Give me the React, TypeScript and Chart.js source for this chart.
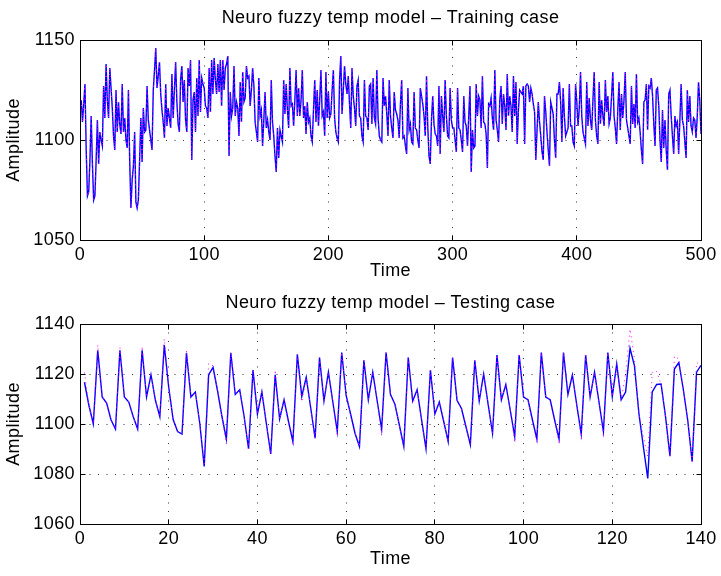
import React, { useEffect, useRef } from "react";
import { Chart, registerables } from "chart.js";

Chart.register(...registerables);

// ---------------- data ----------------
const trainTitle = "Neuro fuzzy temp model – Training case";
const testTitle = "Neuro fuzzy temp model – Testing case";
const xAxisLabel = "Time";
const yAxisLabel = "Amplitude";

// training case, samples 1..500
const trainValues = [
  1120, 1109, 1118, 1128, 1095, 1072, 1074, 1090, 1112, 1088,
  1070, 1072, 1090, 1110, 1088, 1104, 1100, 1097, 1127, 1111,
  1138, 1120, 1111, 1136, 1126, 1116, 1102, 1095, 1125, 1104,
  1119, 1108, 1103, 1128, 1104, 1111, 1100, 1096, 1125, 1090,
  1066, 1080, 1087, 1104, 1069, 1066, 1070, 1090, 1111, 1089,
  1116, 1104, 1105, 1127, 1110, 1105, 1100, 1095, 1125, 1135,
  1146, 1126, 1132, 1139, 1123, 1115, 1109, 1101, 1128, 1107,
  1116, 1111, 1106, 1133, 1111, 1125, 1139, 1119, 1108, 1104,
  1130, 1137, 1119, 1130, 1110, 1104, 1136, 1127, 1140, 1090,
  1120, 1124, 1104, 1131, 1112, 1140, 1114, 1131, 1128, 1126,
  1117, 1116, 1111, 1136, 1114, 1140, 1123, 1141, 1130, 1123,
  1138, 1124, 1140, 1117, 1140, 1125, 1136, 1138, 1142, 1092,
  1124, 1112, 1116, 1137, 1112, 1119, 1116, 1102,
  1129, 1109, 1134, 1119, 1121, 1137, 1131, 1132, 1117, 1125,
  1136, 1127, 1109, 1104, 1099, 1131, 1112, 1115, 1097, 1110,
  1124, 1106, 1110, 1104, 1100, 1130, 1109, 1102, 1092, 1084,
  1106, 1091, 1105, 1102, 1099, 1130, 1113, 1128, 1115, 1106,
  1136, 1117, 1118, 1107, 1120, 1135, 1112, 1126, 1112, 1120,
  1135, 1111, 1117, 1103, 1119, 1109, 1111, 1102, 1099, 1115,
  1130, 1109, 1125, 1107, 1120, 1135, 1112, 1114, 1102, 1134,
  1111, 1124, 1111, 1113, 1125, 1135, 1111, 1104, 1101, 1099,
  1130, 1142, 1113, 1125, 1137, 1128, 1123, 1132, 1118, 1106,
  1136, 1122, 1116,
  1107, 1127, 1130, 1112, 1111, 1102, 1099, 1130, 1112, 1111,
  1105, 1127, 1128, 1108, 1131, 1111, 1108, 1135, 1111, 1102,
  1100, 1099, 1131, 1117, 1122, 1113, 1102, 1130, 1112, 1106,
  1101, 1124, 1115, 1113, 1110, 1101, 1118, 1130, 1101, 1102,
  1097, 1093, 1126, 1105, 1108, 1099, 1098, 1124, 1106, 1105,
  1100, 1096, 1126, 1122, 1118, 1112, 1102, 1132, 1107, 1092,
  1088, 1110, 1122, 1108, 1103, 1102, 1097, 1127, 1093, 1122,
  1112, 1104, 1130, 1112, 1102, 1101, 1126, 1110, 1106, 1106,
  1100, 1094, 1126, 1106, 1105, 1100, 1094, 1122, 1109, 1107,
  1097, 1112,
  1127, 1084, 1105, 1096, 1097, 1128, 1112, 1122, 1120, 1106,
  1132, 1109, 1108, 1103, 1086, 1118, 1117, 1121, 1111, 1105,
  1135, 1110, 1105, 1099, 1120, 1127, 1108, 1123, 1117, 1105,
  1133, 1112, 1122, 1117, 1104, 1132, 1112, 1129, 1098, 1115,
  1125, 1124, 1123, 1127, 1098, 1127, 1128, 1127, 1119, 1126,
  1123, 1118, 1114, 1090, 1105, 1119, 1109, 1102, 1094, 1090,
  1122, 1114, 1104, 1095, 1087, 1119, 1116, 1113, 1100, 1091,
  1123, 1123, 1129, 1119, 1099, 1126, 1112, 1102, 1104, 1106,
  1128, 1107, 1107, 1099, 1097, 1128, 1119, 1107, 1116,
  1134, 1112, 1104, 1101, 1098, 1129, 1107, 1121, 1110, 1105,
  1120, 1134, 1110, 1102, 1098, 1129, 1108, 1120, 1112, 1107,
  1130, 1114, 1122, 1108, 1111, 1122, 1134, 1112, 1106, 1098,
  1115, 1129, 1105, 1123, 1111, 1120, 1134, 1110, 1106, 1102,
  1098, 1127, 1108, 1118, 1106, 1133, 1109, 1111, 1104, 1095,
  1088, 1119, 1120, 1128, 1105, 1127, 1126, 1131, 1122, 1108,
  1097, 1125, 1126, 1117, 1100, 1089, 1115, 1096, 1110, 1095,
  1085, 1123, 1125, 1112, 1102, 1093, 1112, 1107, 1109, 1093,
  1110, 1128, 1110, 1107, 1099, 1091, 1125, 1109, 1122, 1107,
  1104, 1111, 1110, 1101, 1112, 1129, 1120, 1103,
];

// testing case, samples 1..140 — model output (blue)
const testModel = [
  1116.7, 1107.5, 1100, 1129.5, 1110.8, 1108.4, 1101.6, 1098, 1129.5, 1110.8,
  1108.8, 1102.9, 1098, 1129.5, 1110.8, 1119.7, 1109.5, 1102.9, 1131.6, 1114.7,
  1101.8, 1097, 1096, 1128.5, 1110.8, 1112.8, 1100.3, 1083, 1119.7, 1122.6,
  1113.4, 1103, 1094, 1128.5, 1111.8, 1113.7, 1103, 1090, 1121.6, 1104,
  1112.8, 1100.3, 1088, 1119.7, 1102, 1109.7, 1101, 1093, 1127.9, 1111,
  1118.7, 1106.6, 1094.3, 1126.6, 1109.2, 1120.7, 1108.8, 1097, 1128.6, 1111.4,
  1104, 1096.3, 1091, 1125.5, 1109.7, 1120.7, 1109.2, 1097.9, 1128.6, 1111.8,
  1107.9, 1099.5, 1091, 1126.6, 1109.2, 1113.7, 1101.8, 1090.1, 1121.6, 1104,
  1108.8, 1101, 1093, 1126.6, 1109.5, 1106.2, 1099, 1091.7, 1125.5, 1109.2,
  1120, 1108, 1096.3, 1127.6, 1109.7, 1115.8, 1105.5, 1095, 1127.6, 1110.8,
  1109.7, 1101.6, 1094, 1128.6, 1110.8, 1109.7, 1101.6, 1094, 1128.6, 1111.8,
  1119.6, 1107.5, 1096, 1127.6, 1110.8, 1120.7, 1108.8, 1097, 1128.6, 1111,
  1124, 1109.7, 1112.8, 1130.3, 1123.3, 1104.2, 1091, 1078.2, 1112.8, 1115.8,
  1116, 1103, 1087.1, 1122, 1124.6, 1114, 1101.6, 1085, 1120.7, 1123.5,
];

// testing case, samples 1..140 — measured (magenta dotted)
const testActual = [
  1120.6, 1107.5, 1100, 1131.6, 1110.8, 1108.4, 1101.6, 1098, 1130.5, 1110.8,
  1108.8, 1102.9, 1098, 1131, 1110.8, 1119.7, 1109.5, 1102.9, 1134, 1114.7,
  1101.8, 1097, 1096, 1129.5, 1110.8, 1112.8, 1100.3, 1084, 1124.2, 1123.3,
  1113.4, 1103, 1092, 1128.5, 1111.8, 1113.7, 1103, 1090, 1121.6, 1104,
  1112.8, 1100.3, 1088, 1121.6, 1102, 1109.7, 1101, 1091.3, 1127.9, 1108.8,
  1118.7, 1106.6, 1094.3, 1126.6, 1109.2, 1120.7, 1108.8, 1095, 1128.6, 1111.4,
  1104, 1096.3, 1091, 1125.5, 1109.7, 1120.7, 1109.2, 1095.3, 1128.6, 1111.8,
  1107.9, 1099.5, 1091, 1126.6, 1108, 1113.7, 1101.8, 1090.1, 1121.6, 1104,
  1108.8, 1101, 1093, 1126.6, 1109.5, 1106.2, 1099, 1091.7, 1125.5, 1109.2,
  1120, 1108, 1096.3, 1127.6, 1109.7, 1115.8, 1105.5, 1092.6, 1127.6, 1110.8,
  1109.7, 1101.6, 1092.4, 1128.6, 1110.8, 1109.7, 1101.6, 1092, 1128.6, 1111.8,
  1119.6, 1107.5, 1094, 1127.6, 1110.8, 1120.7, 1108.8, 1094.6, 1128.6, 1111,
  1124, 1109.7, 1120, 1138, 1126, 1104.2, 1095, 1087, 1120.7, 1121,
  1116, 1103, 1087.1, 1127.2, 1126, 1114, 1101.6, 1085, 1124.6, 1123.5,
];

const trainXRange = [0, 500, 100];
const trainYRange = [1050, 1150, 50];
const testXRange = [0, 140, 20];
const testYRange = [1060, 1140, 20];

// ---------------- styling ----------------
const FONT_FAMILY = "'Liberation Sans', Arial, Helvetica, sans-serif";
const FONT_SIZE = 18;
const LETTER_SPACING = "0.4px";
const W = 721;
const H = 288;

function alignPx(p: number) {
  return Math.round(p - 0.5) + 0.5;
}

const framePlugin = {
  id: "matlabFrame",
  beforeDraw(chart: any) {
    (chart.ctx as any).letterSpacing = LETTER_SPACING;
  },
  afterDraw(chart: any, _args: any, opts: any) {
    const { ctx, chartArea: a, scales } = chart;
    const l = alignPx(a.left);
    const r = alignPx(a.right);
    const t = alignPx(a.top);
    const b = alignPx(a.bottom);
    ctx.save();
    ctx.setLineDash([]);
    ctx.strokeStyle = "#000";
    ctx.lineWidth = 1;
    ctx.strokeRect(l, t, r - l, b - t);
    const tl = 5;
    ctx.beginPath();
    scales.x.ticks.forEach((tk: any) => {
      const px = alignPx(scales.x.getPixelForValue(tk.value));
      ctx.moveTo(px, b);
      ctx.lineTo(px, b - tl);
      ctx.moveTo(px, t);
      ctx.lineTo(px, t + tl);
    });
    scales.y.ticks.forEach((tk: any) => {
      const py = alignPx(scales.y.getPixelForValue(tk.value));
      ctx.moveTo(l, py);
      ctx.lineTo(l + tl, py);
      ctx.moveTo(r, py);
      ctx.lineTo(r - tl, py);
    });
    ctx.stroke();
    // axes title
    (ctx as any).letterSpacing = LETTER_SPACING;
    ctx.font = `${FONT_SIZE}px ${FONT_FAMILY}`;
    ctx.fillStyle = "#000";
    ctx.textAlign = "center";
    ctx.textBaseline = "middle";
    ctx.fillText(opts.title, (a.left + a.right) / 2, opts.titleY);
    ctx.restore();
  },
};

const plainTick = (v: any) => String(v);

function buildConfig(p: any) {
  const font = { family: FONT_FAMILY, size: FONT_SIZE };
  const grid = { color: "#333", lineWidth: 1, drawTicks: false };
  const border = { display: true, color: "#000", width: 1, dash: [1, 7.5] };
  const datasets: any[] = [
    {
      label: "measured",
      data: p.actual.map((v: number, i: number) => ({ x: i + 1, y: v })),
      borderColor: "#ff00ff",
      borderWidth: 1,
      borderDash: [1, 4],
      pointRadius: 0,
      tension: 0,
      fill: false,
    },
    {
      label: "model",
      data: p.model.map((v: number, i: number) => ({ x: i + 1, y: v })),
      borderColor: "#0000ff",
      borderWidth: 1.4,
      pointRadius: 0,
      tension: 0,
      fill: false,
    },
  ];
  return {
    type: "line",
    data: { datasets },
    plugins: [framePlugin],
    options: {
      animation: false,
      responsive: false,
      devicePixelRatio: 1,
      events: [],
      layout: { padding: { left: 0, right: 20, top: p.topPad, bottom: 0 } },
      plugins: {
        legend: { display: false },
        tooltip: { enabled: false },
        matlabFrame: { title: p.title, titleY: p.titleY },
      },
      scales: {
        x: {
          type: "linear",
          min: p.xRange[0],
          max: p.xRange[1],
          ticks: {
            stepSize: p.xRange[2],
            font,
            color: "#000",
            padding: 4,
            maxRotation: 0,
            autoSkip: false,
            callback: plainTick,
          },
          grid,
          border,
          title: {
            display: true,
            text: xAxisLabel,
            font,
            color: "#000",
            padding: { top: 0, bottom: p.timePad },
          },
          afterFit: (s: any) => {
            s.height = p.xAxisHeight;
          },
        },
        y: {
          type: "linear",
          min: p.yRange[0],
          max: p.yRange[1],
          ticks: { stepSize: p.yRange[2], font, color: "#000", padding: 5, callback: plainTick },
          grid,
          border,
          title: {
            display: true,
            text: yAxisLabel,
            font,
            color: "#000",
            padding: { top: 3, bottom: 0 },
          },
          afterFit: (s: any) => {
            s.width = 80;
          },
        },
      },
    },
  };
}

function Plot({ config, top }: { config: any; top: number }) {
  const ref = useRef<HTMLCanvasElement | null>(null);
  useEffect(() => {
    if (!ref.current) return;
    const chart = new Chart(ref.current, config);
    return () => chart.destroy();
  }, []);
  return (
    <canvas
      ref={ref}
      width={W}
      height={H}
      style={{ position: "absolute", left: 0, top, width: W, height: H, display: "block" }}
    />
  );
}

export default function App() {
  const trainConfig = buildConfig({
    title: trainTitle,
    titleY: 18,
    actual: trainValues,
    model: trainValues,
    xRange: trainXRange,
    yRange: trainYRange,
    topPad: 40,
    xAxisHeight: 48,
    timePad: 6,
  });
  const testConfig = buildConfig({
    title: testTitle,
    titleY: 15,
    actual: testActual,
    model: testModel,
    xRange: testXRange,
    yRange: testYRange,
    topPad: 36,
    xAxisHeight: 52,
    timePad: 6,
  });
  return (
    <div style={{ position: "absolute", left: 0, top: 0, width: W, height: 576, background: "#fff" }}>
      <Plot config={trainConfig} top={0} />
      <Plot config={testConfig} top={288} />
    </div>
  );
}
